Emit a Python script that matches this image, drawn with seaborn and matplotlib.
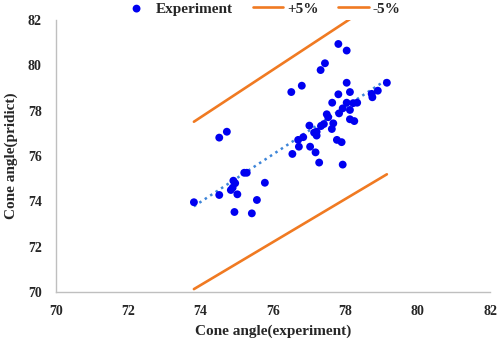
import numpy as np
import pandas as pd
import matplotlib
matplotlib.use("Agg")
import matplotlib.pyplot as plt
import seaborn as sns

experiment = [77.81, 78.04, 77.44, 77.32, 76.80, 76.51, 78.04, 79.15, 78.90, 78.73,
              78.75, 78.13, 77.81, 77.64, 78.04, 78.22, 78.33, 78.13, 77.93, 77.83,
              77.49, 77.53, 78.13, 78.25, 77.67, 77.63, 77.41, 77.33, 77.01, 77.14,
              77.21, 77.21, 76.84, 76.70, 77.77, 77.90, 76.72, 77.03, 77.18, 76.54,
              77.28, 77.93, 74.52, 74.73, 75.21, 75.28, 75.78, 74.91, 74.96, 74.84,
              74.89, 74.52, 75.02, 75.56, 73.82, 74.94, 75.42]
predict = [80.94, 80.65, 80.09, 79.79, 79.10, 78.82, 79.23, 79.23, 78.88, 78.74,
           78.59, 78.82, 78.72, 78.35, 78.35, 78.33, 78.35, 78.03, 78.10, 77.88,
           77.84, 77.71, 77.62, 77.54, 77.44, 77.19, 77.41, 77.32, 77.34, 77.03,
           77.07, 76.90, 76.83, 76.71, 76.71, 76.61, 76.41, 76.41, 76.16, 76.09,
           75.71, 75.62, 76.81, 77.07, 75.26, 75.26, 74.82, 74.91, 74.80, 74.50,
           74.60, 74.28, 74.31, 74.06, 73.96, 73.53, 73.47]

x_ticks = [70, 72, 74, 76, 78, 80, 82]
y_ticks = [70, 72, 74, 76, 78, 80, 82]

df = pd.DataFrame({"experiment": experiment, "predict": predict})

sns.set_style("white")
plt.rcParams["font.family"] = ["Liberation Serif", "DejaVu Serif"]
plt.rcParams["font.weight"] = "bold"

fig = plt.figure(figsize=(4.98, 3.38), dpi=100)
ax = fig.add_axes([0.1117, 0.136, 0.8723, 0.805])

orange = "#F07A22"

# +/-5% bands over the data range
x_band = np.array([df["experiment"].min(), df["experiment"].max()])
ax.plot(x_band, x_band * 1.05, color=orange, lw=1.9, label="+5%", zorder=2)
ax.plot(x_band, x_band * 0.95, color=orange, lw=1.9, label="-5%", zorder=2)

# linear trendline
k, b = np.polyfit(df["experiment"], df["predict"], 1)
ax.plot(x_band, k * x_band + b, color="#3D85D8", lw=1.8, ls=(0, (1, 1.6)), zorder=3)

sns.scatterplot(data=df, x="experiment", y="predict", ax=ax, color="#0000F0",
                s=32, edgecolor="none", label="Experiment", zorder=4)

ax.set_xlim(70, 82)
ax.set_ylim(70, 82)
ax.set_xticks(x_ticks)
ax.set_yticks(y_ticks)
ax.tick_params(axis="x", length=0, labelsize=10, pad=9)
ax.tick_params(axis="y", length=0, labelsize=10, pad=10)
for lab in ax.get_xticklabels() + ax.get_yticklabels():
    lab.set_fontweight("bold")

ax.set_xlabel("Cone angle(experiment)", fontsize=11, fontweight="bold", labelpad=5)
ax.set_ylabel("Cone angle(pridict)", fontsize=11, fontweight="bold", labelpad=7)

for side in ["top", "right"]:
    ax.spines[side].set_visible(False)
for side in ["left", "bottom"]:
    ax.spines[side].set_color("#BFBFBF")
    ax.spines[side].set_linewidth(1.0)

handles, labels = ax.get_legend_handles_labels()
order = [labels.index(n) for n in ["Experiment", "+5%", "-5%"]]
ax.get_legend().remove()
fig.legend([handles[i] for i in order], [labels[i] for i in order],
           loc="upper center", bbox_to_anchor=(0.524, 1.035), ncol=3, frameon=False,
           prop={"size": 11, "weight": "bold"}, handlelength=2.0, columnspacing=1.3,
           handletextpad=0.25)

fig.savefig("out.png", dpi=100)
